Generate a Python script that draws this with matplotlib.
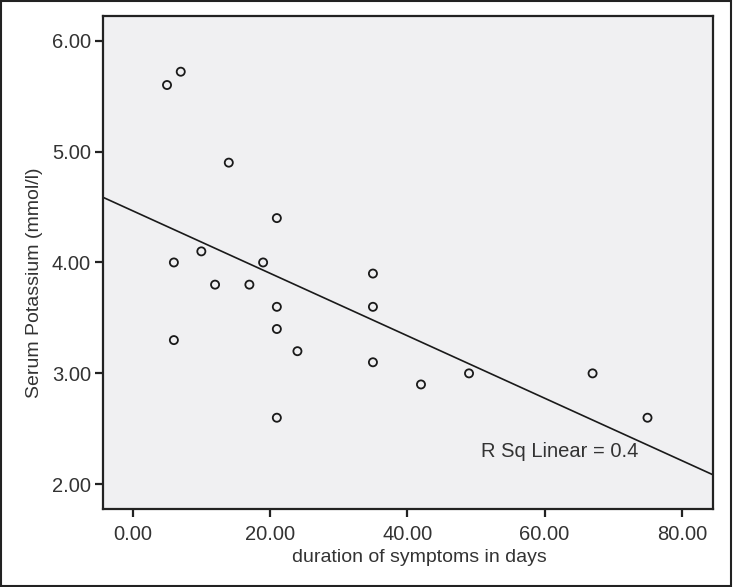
import numpy as np
import matplotlib
matplotlib.use("Agg")
import matplotlib.pyplot as plt
from matplotlib.patches import Rectangle

plt.rcParams['font.family'] = ['Liberation Sans', 'DejaVu Sans']

# Data
duration_days = [5, 7, 14, 21, 6, 10, 12, 17, 19, 21, 21, 6, 24, 21,
                 35, 35, 35, 42, 49, 67, 75]
serum_potassium = [5.60, 5.72, 4.90, 4.40, 4.00, 4.10, 3.80, 3.80, 4.00, 3.60,
                   3.40, 3.30, 3.20, 2.60, 3.90, 3.60, 3.10, 2.90, 3.00, 3.00, 2.60]
x_ticks = [0, 20, 40, 60, 80]
y_ticks = [2, 3, 4, 5, 6]
x_label = "duration of symptoms in days"
y_label = "Serum Potassium (mmol/l)"
r2_text = "R Sq Linear = 0.4"

W, H = 735, 587
fig = plt.figure(figsize=(W / 100, H / 100), dpi=100)
fig.patch.set_facecolor('white')

left, right, top, bottom = 102.7, 712.7, 15.7, 509.0
ax = fig.add_axes([left / W, 1 - bottom / H, (right - left) / W, (bottom - top) / H])
ax.set_facecolor('#f0f0f2')

xlim = (-4.37, 84.5)
ylim = (1.777, 6.225)
ax.set_xlim(*xlim)
ax.set_ylim(*ylim)

ax.scatter(duration_days, serum_potassium, s=34, facecolors='none',
           edgecolors='#1a1a1a', linewidths=1.3, zorder=3)

slope, intercept = np.polyfit(duration_days, serum_potassium, 1)
xs = np.array(xlim)
ax.plot(xs, intercept + slope * xs, color='#1a1a1a', lw=1.2, zorder=2)

ax.text(50.8, 2.25, r2_text, fontsize=14.5, color='#333333', ha='left', va='baseline')

for s in ax.spines.values():
    s.set_linewidth(1.6)
    s.set_color('#222222')

ax.set_xticks(x_ticks)
ax.set_yticks(y_ticks)
ax.set_xticklabels([f"{v:.2f}" for v in x_ticks])
ax.set_yticklabels([f"{v:.2f}" for v in y_ticks])
ax.tick_params(axis='both', direction='out', length=5.5, width=1.6, color='#222222',
               labelsize=14.5, labelcolor='#333333')
ax.tick_params(axis='x', pad=6)
ax.tick_params(axis='y', pad=3)

fig.text(419 / W, 1 - 558 / H, x_label, fontsize=14, color='#333333',
         ha='center', va='center')
fig.text(35 / W, 1 - 283 / H, y_label, fontsize=14, color='#333333',
         ha='center', va='center', rotation=90)

fig.patches.append(Rectangle((1 / W, 1 / H), 730 / W, (H - 2) / H,
                             transform=fig.transFigure, fill=False,
                             edgecolor='#222222', linewidth=1.5))

fig.savefig('out.png', dpi=100)
